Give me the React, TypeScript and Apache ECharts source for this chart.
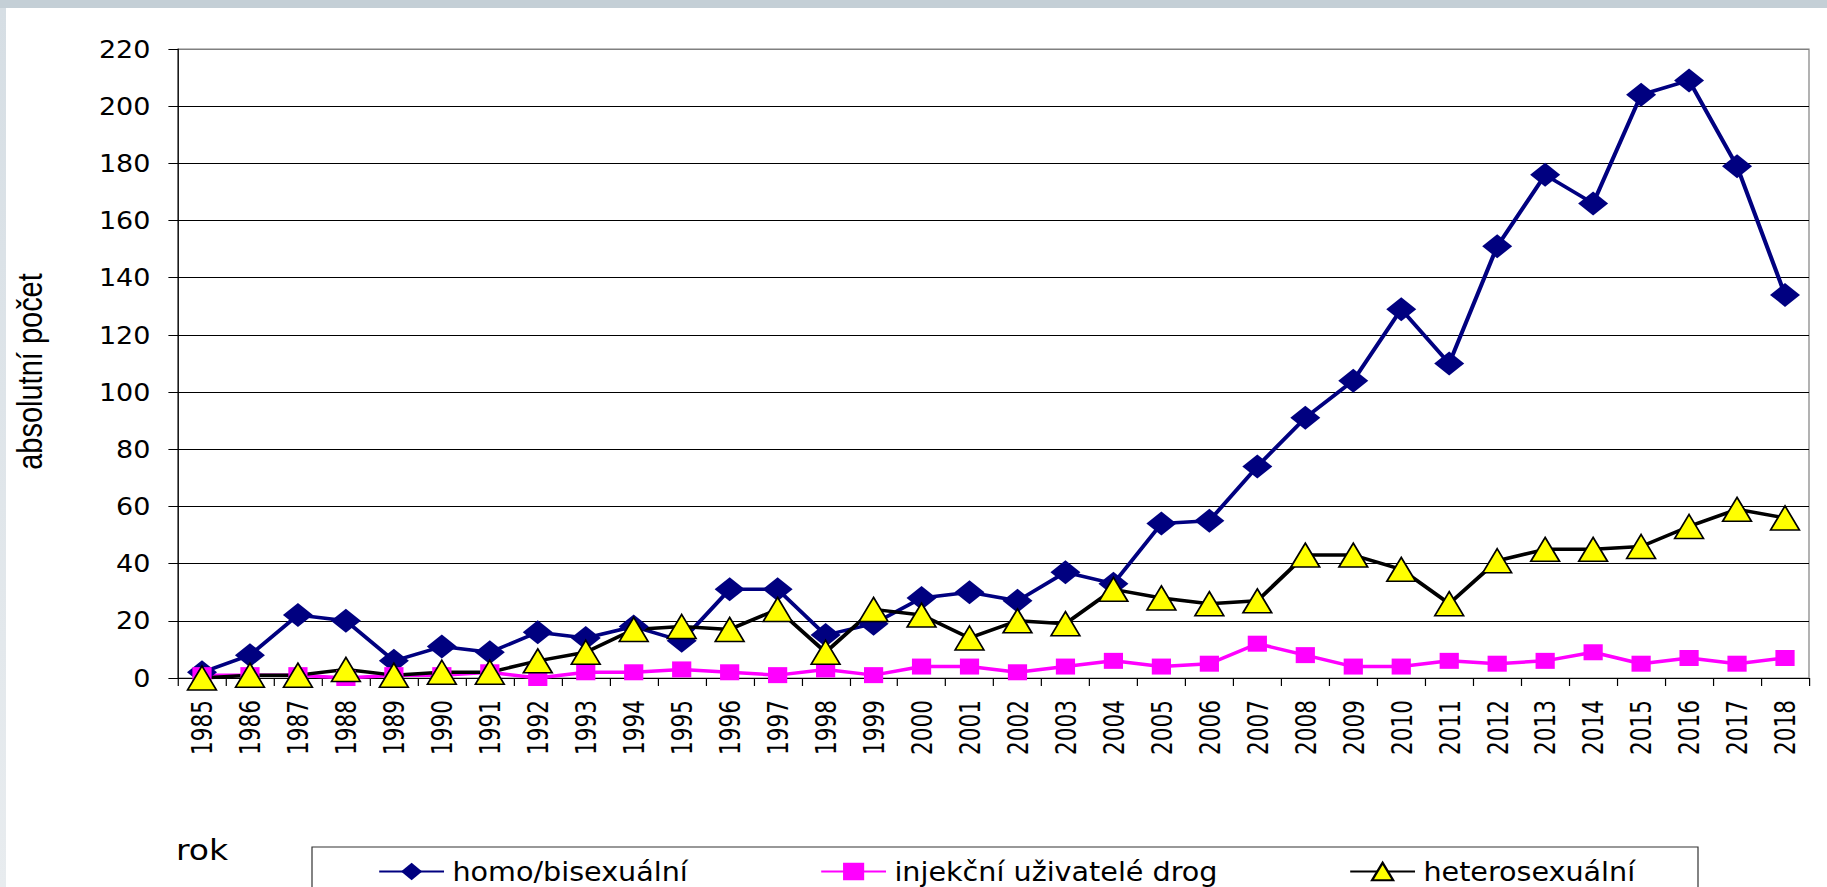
import React, { useEffect, useRef } from "react";
import * as echarts from "echarts";

// ---- data ----
const years = [
  "1985", "1986", "1987", "1988", "1989", "1990", "1991", "1992", "1993", "1994",
  "1995", "1996", "1997", "1998", "1999", "2000", "2001", "2002", "2003", "2004",
  "2005", "2006", "2007", "2008", "2009", "2010", "2011", "2012", "2013", "2014",
  "2015", "2016", "2017", "2018",
];
const homoBi = [2, 8, 22, 20, 6, 11, 9, 16, 14, 18, 13, 31, 31, 15, 19, 28, 30, 27, 37, 33, 54, 55, 74, 91, 104, 129, 110, 151, 176, 166, 204, 209, 179, 134];
const injecting = [1, 1, 1, 0, 1, 1, 2, 0, 2, 2, 3, 2, 1, 3, 1, 4, 4, 2, 4, 6, 4, 5, 12, 8, 4, 4, 6, 5, 6, 9, 5, 7, 5, 7];
const hetero = [0, 1, 1, 3, 1, 2, 2, 6, 9, 17, 18, 17, 24, 9, 24, 22, 14, 20, 19, 31, 28, 26, 27, 43, 43, 38, 26, 41, 45, 45, 46, 53, 59, 56];
const seriesNames = ["homo/bisexuální", "injekční uživatelé drog", "heterosexuální"];
const yTitle = "absolutní počet";
const xTitle = "rok";
const yMin = 0;
const yMax = 220;
const yStep = 20;

// ---- layout ----
const FULL_W = 1827;
const H = 887;
const W = 1522;
const SX = FULL_W / W;
const ix = (x: number) => x / SX;
const TICK_FONT = '"DejaVu Sans Condensed", "DejaVu Sans", sans-serif';

export default function App() {
  const ref = useRef<HTMLDivElement>(null);

  useEffect(() => {
    if (!ref.current) return;
    const chart = echarts.init(ref.current, undefined, { renderer: "svg" });
    const splitColors = [];
    for (let v = yMin; v <= yMax; v += yStep) splitColors.push(v === yMax ? "#808080" : "#000000");
    const legendLefts = [ix(378), ix(820), ix(1349)];
    const colors = ["#000080", "#FF00FF", "#000000"];

    chart.setOption({
      animation: false,
      backgroundColor: "#ffffff",
      grid: {
        left: ix(178),
        right: W - ix(1809),
        top: 49,
        bottom: H - 678,
        show: true,
        borderColor: "#808080",
        borderWidth: 1,
      },
      xAxis: {
        type: "category",
        data: years,
        boundaryGap: true,
        axisLine: { show: true, lineStyle: { color: "#000", width: 1 } },
        axisTick: { show: true, length: 8, interval: 0, lineStyle: { color: "#000" } },
        axisLabel: {
          interval: 0,
          rotate: 90,
          margin: 22,
          fontSize: 24,
          fontFamily: TICK_FONT,
          color: "#000",
        },
        splitLine: { show: false },
      },
      yAxis: {
        type: "value",
        min: yMin,
        max: yMax,
        interval: yStep,
        name: yTitle,
        nameLocation: "middle",
        nameRotate: 90,
        nameGap: 109,
        nameTextStyle: {
          fontFamily: '"Liberation Sans", Arial, sans-serif',
          fontSize: 29,
          color: "#000",
          padding: [0, 16, 0, 0],
        },
        axisLine: { show: true, lineStyle: { color: "#000", width: 1 } },
        axisTick: { show: true, length: 8, lineStyle: { color: "#000" } },
        axisLabel: {
          margin: 23,
          fontSize: 25,
          fontFamily: TICK_FONT,
          color: "#000",
        },
        splitLine: { show: true, lineStyle: { color: splitColors, width: 1 } },
      },
      legend: seriesNames.map((n, i) => ({
        data: [n],
        left: legendLefts[i],
        top: 858,
        padding: 0,
        itemWidth: 54,
        itemHeight: 22,
        itemGap: 0,
        selectedMode: false,
        textStyle: {
          fontFamily: TICK_FONT,
          fontSize: 26.5,
          lineHeight: 24,
          color: "#000",
          padding: [0, 0, 0, 2],
        },
      })),
      graphic: [
        {
          type: "rect",
          shape: { x: 0, y: 0, width: W, height: 8 },
          style: { fill: "#c4cfd6" },
          silent: true,
        },
        {
          type: "rect",
          shape: { x: 0, y: 8, width: ix(6), height: H - 8 },
          style: {
            fill: new echarts.graphic.LinearGradient(0, 0, 0, 1, [
              { offset: 0, color: "#d6dee4" },
              { offset: 1, color: "#e8ecef" },
            ]),
          },
          silent: true,
        },
        {
          type: "rect",
          shape: { x: ix(312), y: 847, width: ix(1698) - ix(312), height: 60 },
          style: { fill: "transparent", stroke: "#333", lineWidth: 1 },
          silent: true,
        },
        {
          type: "text",
          x: ix(176),
          y: 850,
          style: {
            text: xTitle,
            font: '27.5px "DejaVu Sans", sans-serif',
            fill: "#000",
            verticalAlign: "middle",
            align: "left",
          },
          silent: true,
        },
      ],
      series: [
        {
          name: seriesNames[0],
          type: "line",
          data: homoBi,
          symbol: "diamond",
          symbolSize: [25, 24],
          lineStyle: { color: colors[0], width: 3.5 },
          itemStyle: { color: colors[0] },
        },
        {
          name: seriesNames[1],
          type: "line",
          data: injecting,
          symbol: "rect",
          symbolSize: 16,
          lineStyle: { color: colors[1], width: 3.5 },
          itemStyle: { color: colors[1] },
        },
        {
          name: seriesNames[2],
          type: "line",
          data: hetero,
          symbol: "triangle",
          symbolSize: [24, 24],
          lineStyle: { color: colors[2], width: 3.5 },
          itemStyle: { color: "#FFFF00", borderColor: "#000", borderWidth: 1.5 },
        },
      ],
    });
    return () => chart.dispose();
  }, []);

  return (
    <div
      ref={ref}
      style={{
        position: "fixed",
        left: 0,
        top: 0,
        width: W,
        height: H,
        transform: `scaleX(${SX})`,
        transformOrigin: "0 0",
      }}
    />
  );
}
